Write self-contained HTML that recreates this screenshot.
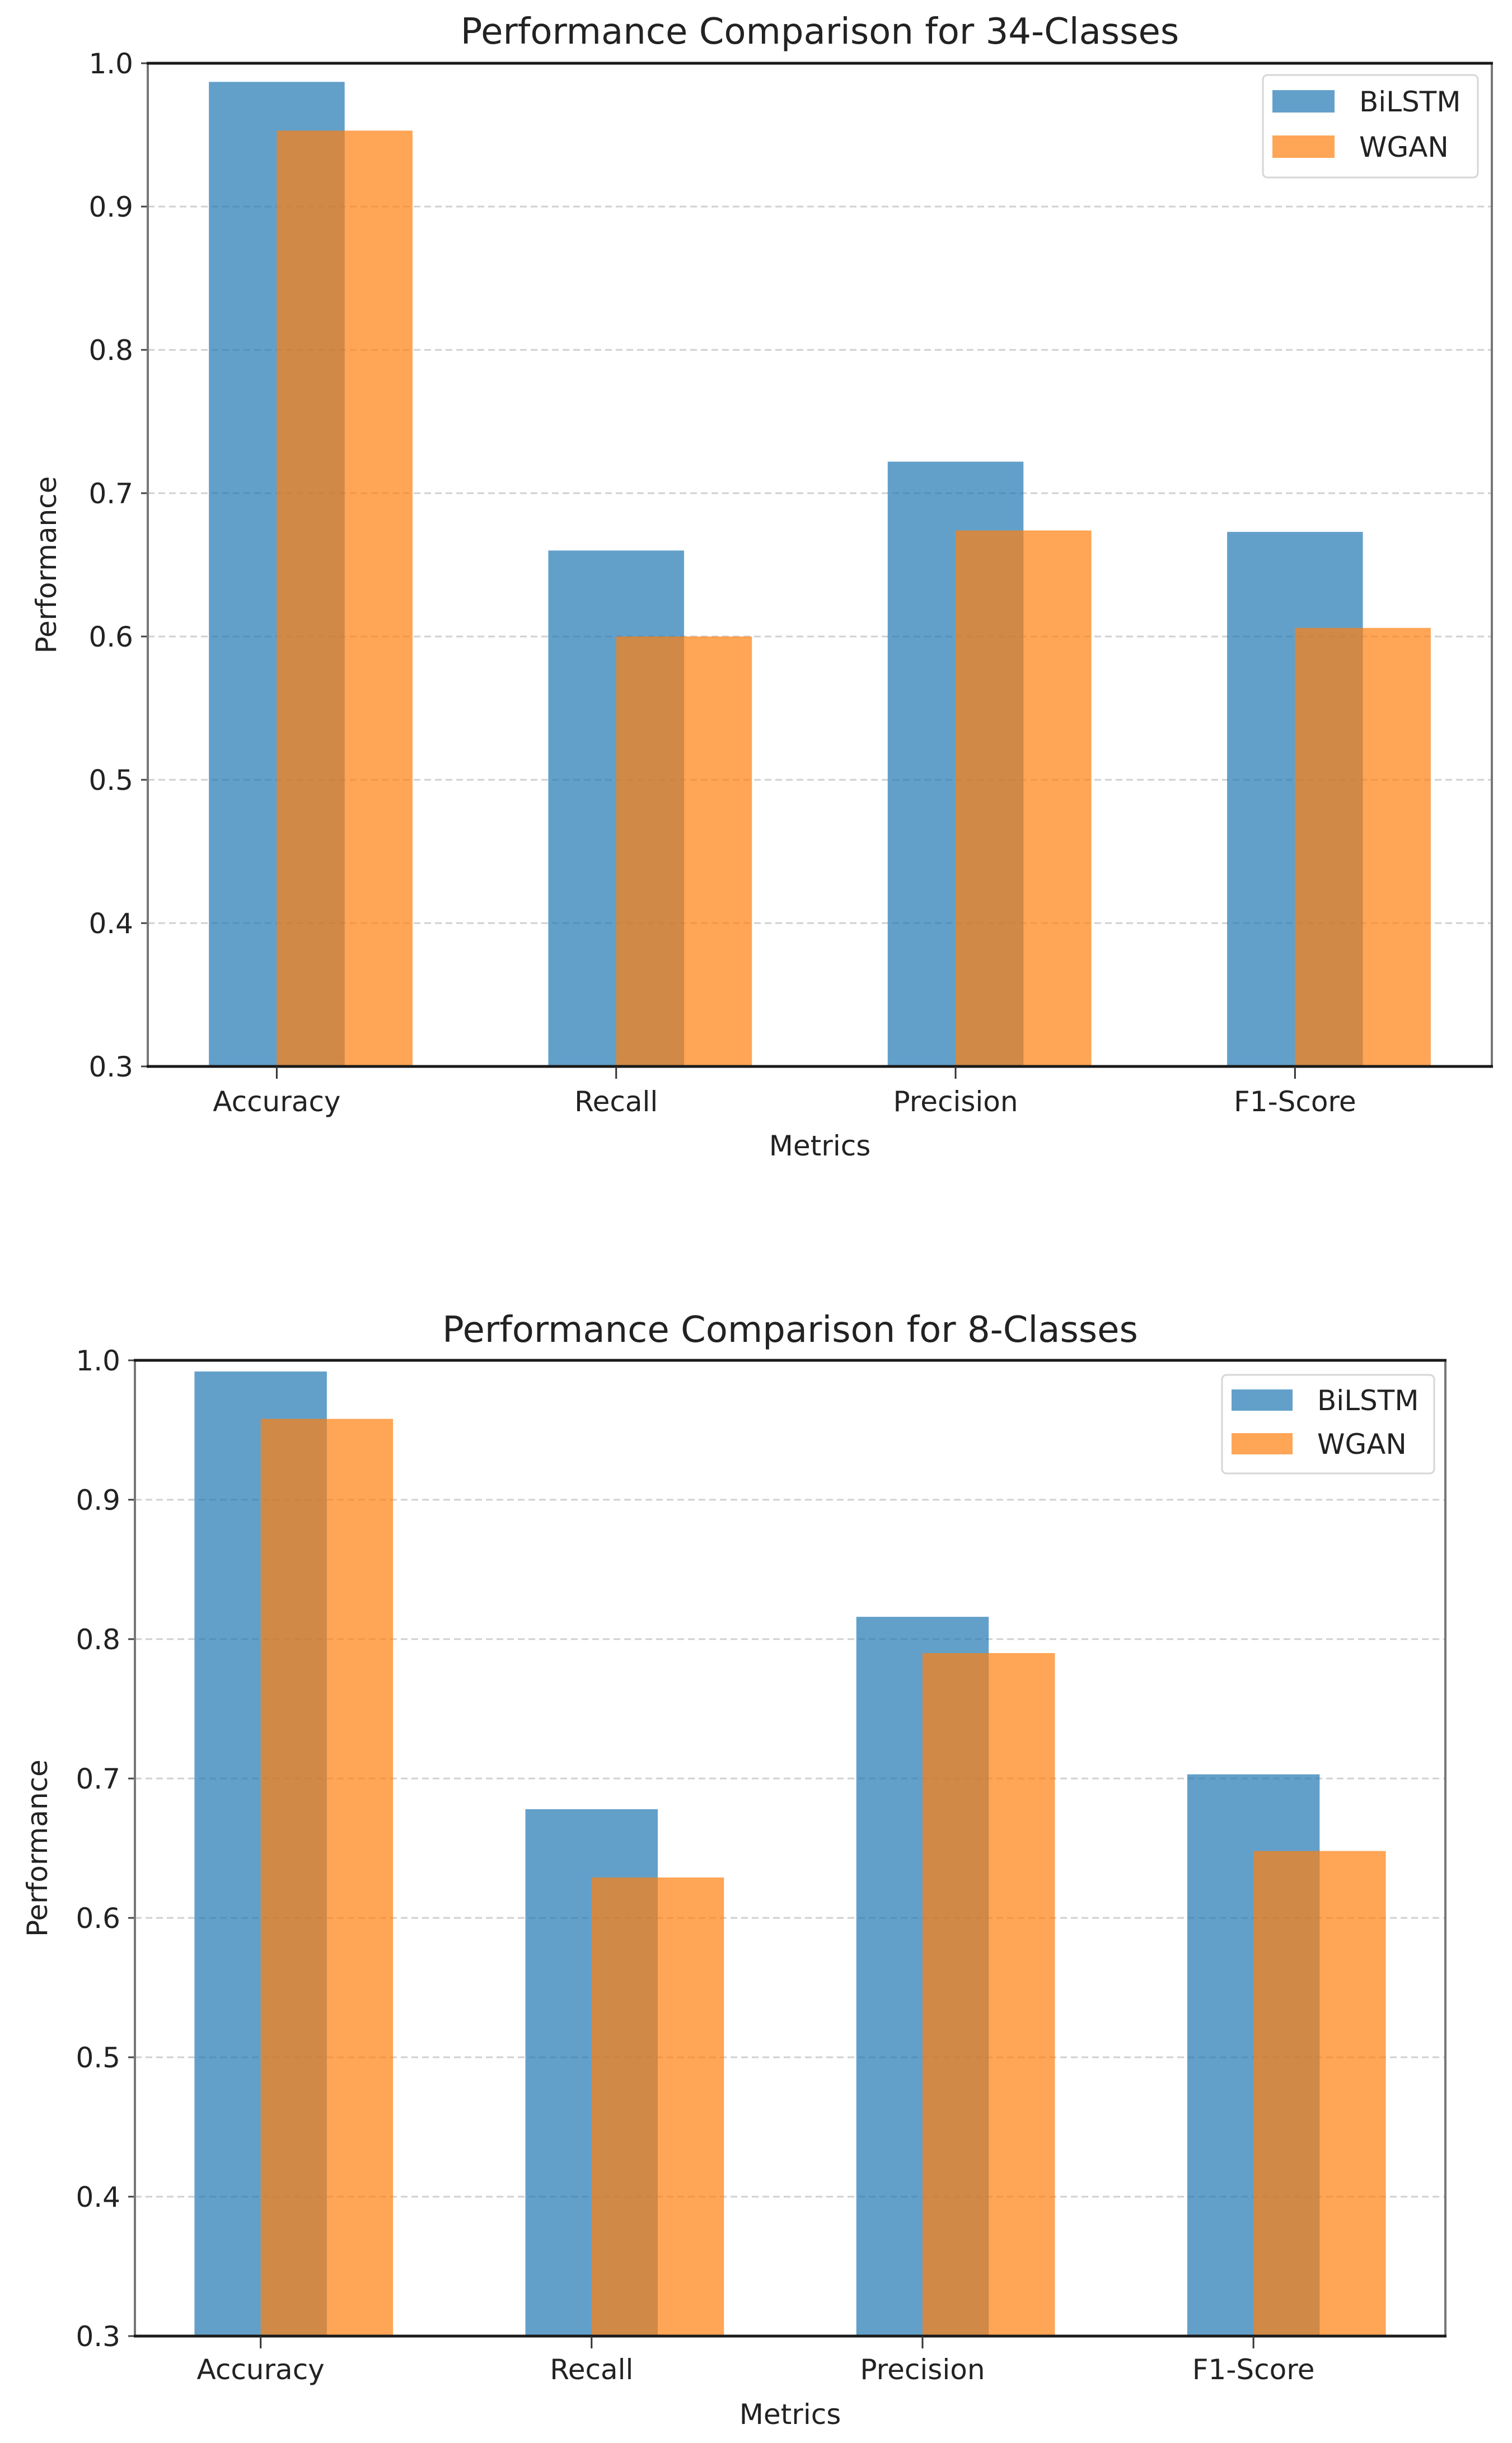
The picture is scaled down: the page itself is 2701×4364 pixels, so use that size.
<!DOCTYPE html>
<html><head><meta charset="utf-8"><style>
html,body{margin:0;padding:0;background:#fff;}
svg text{font-family:"DejaVu Sans","Liberation Sans",sans-serif;fill:#222;}
</style></head>
<body>
<svg id="fig" width="2701" height="4359" viewBox="0 0 2701 4359" xmlns="http://www.w3.org/2000/svg">
<rect width="2701" height="4359" fill="#fff"/>
</svg>
<script>
const categories = ["Accuracy","Recall","Precision","F1-Score"];
const seriesNames = ["BiLSTM","WGAN"];
const bilstm34 = [0.987, 0.660, 0.722, 0.673];
const wgan34 = [0.953, 0.600, 0.674, 0.606];
const bilstm8 = [0.992, 0.678, 0.816, 0.703];
const wgan8 = [0.958, 0.629, 0.790, 0.648];
const yTicks = [0.3,0.4,0.5,0.6,0.7,0.8,0.9,1.0];
const yTickLabels = ["0.3","0.4","0.5","0.6","0.7","0.8","0.9","1.0"];
const titles = ["Performance Comparison for 34-Classes","Performance Comparison for 8-Classes"];

const NS="http://www.w3.org/2000/svg";
const svg=document.getElementById('fig');
function mk(tag,attrs,parent){const e=document.createElementNS(NS,tag);for(const k in attrs)e.setAttribute(k,attrs[k]);(parent||svg).appendChild(e);return e;}

const layouts=[
 {L:264,R:2665,T:113,B:1905,titleY:78,tickLabelY:1985,xlabelY:2064,ylabelX:100,
  legend:{x:2256,y:134,w:384,h:183,px:2273,pw:111,ph:40,tx:2428,ys:[181,262]}},
 {L:241,R:2582,T:2430,B:4173,titleY:2397,tickLabelY:4250,xlabelY:4330,ylabelX:84,
  legend:{x:2183,y:2456,w:379,h:176,px:2200,pw:109,ph:38,tx:2353,ys:[2501,2579]}}
];
const data=[[bilstm34,wgan34],[bilstm8,wgan8]];
const colors=["#1f77b4","#ff7f0e"];

layouts.forEach((lay,ci)=>{
 const g=mk('g',{});
 
 
 const x0=-0.38,x1=3.58;
 const xs=v=>lay.L+(v-x0)/(x1-x0)*(lay.R-lay.L);
 const ys=v=>lay.B-(v-0.3)/0.7*(lay.B-lay.T);
 // grid
 yTicks.forEach((t,i)=>{
  const y=ys(t);
  if(i>0&&i<yTicks.length-1){
   const gl=mk('line',{x1:lay.L,x2:lay.R,y1:y,y2:y,stroke:'#d0d0d0','stroke-width':3,'stroke-dasharray':'12,7'},g);
   
   
  }
  const tk=mk('line',{x1:lay.L-12,x2:lay.L,y1:y,y2:y,stroke:'#444','stroke-width':3},g);
  
  
  const tl=mk('text',{x:lay.L-26,y:y+18,'text-anchor':'end','font-size':50},g);
  tl.textContent=yTickLabels[i];
  
  
 });
 // bars
 const w=0.4;
 data[ci].forEach((series,si)=>{
  series.forEach((v,k)=>{
   const left=k-0.2+si*0.2;
   const r=mk('rect',{x:xs(left),y:ys(v),width:xs(left+w)-xs(left),height:ys(0.3)-ys(v),fill:colors[si],'fill-opacity':0.7},g);
   
   
  });
 });
 // spines
 const sl=mk('line',{x1:lay.L,x2:lay.L,y1:lay.T,y2:lay.B,stroke:'#777','stroke-width':4},g);
 
 const sr=mk('line',{x1:lay.R,x2:lay.R,y1:lay.T,y2:lay.B,stroke:'#777','stroke-width':4},g);
 
 const st=mk('line',{x1:lay.L-2,x2:lay.R+2,y1:lay.T,y2:lay.T,stroke:'#1a1a1a','stroke-width':5},g);
 
 const sb=mk('line',{x1:lay.L-2,x2:lay.R+2,y1:lay.B,y2:lay.B,stroke:'#1a1a1a','stroke-width':5},g);
 
 // x ticks
 categories.forEach((c,k)=>{
  const x=xs(k);
  const t=mk('line',{x1:x,x2:x,y1:lay.B,y2:lay.B+22,stroke:'#333','stroke-width':3},g);
  
  const tl=mk('text',{x:x,y:lay.tickLabelY,'text-anchor':'middle','font-size':50},g);
  tl.textContent=c;
  
 });
 // title / labels
 const ti=mk('text',{x:(lay.L+lay.R)/2,y:lay.titleY,'text-anchor':'middle','font-size':64},g);
 ti.textContent=titles[ci];
 
 const xl=mk('text',{x:(lay.L+lay.R)/2,y:lay.xlabelY,'text-anchor':'middle','font-size':50},g);
 xl.textContent='Metrics';
 
 const cy=(lay.T+lay.B)/2;
 const yl=mk('text',{x:lay.ylabelX,y:cy,'text-anchor':'middle','font-size':50,transform:`rotate(-90 ${lay.ylabelX} ${cy})`},g);
 yl.textContent='Performance';
 
 // legend
 const lg=lay.legend;
 const lb=mk('rect',{x:lg.x,y:lg.y,width:lg.w,height:lg.h,rx:8,fill:'#fff','fill-opacity':0.85,stroke:'#d6d6d6','stroke-width':3},g);
 
 seriesNames.forEach((n,si)=>{
  const p=mk('rect',{x:lg.px,y:lg.ys[si]-lg.ph/2,width:lg.pw,height:lg.ph,fill:colors[si],'fill-opacity':0.7},g);
  
  const t=mk('text',{x:lg.tx,y:lg.ys[si]+18,'font-size':50},g);
  t.textContent=n;
  
 });
});
</script>
</body></html>
